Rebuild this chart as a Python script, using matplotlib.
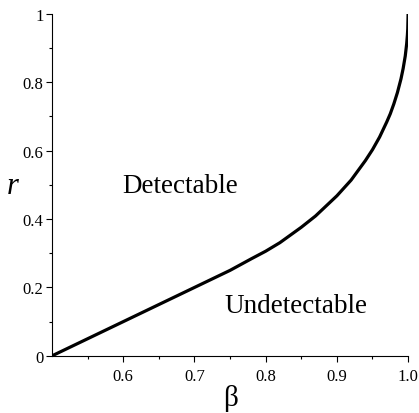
import matplotlib
matplotlib.use("Agg")
import matplotlib.pyplot as plt

beta = [0.5, 0.55, 0.6, 0.65, 0.7, 0.75, 0.78, 0.8, 0.82, 0.85, 0.87, 0.9, 0.92, 0.94, 0.95,
        0.96, 0.97, 0.975, 0.98, 0.985, 0.99, 0.993, 0.996, 0.998, 0.999, 0.9995, 1.0]
r = [0.0, 0.05, 0.1, 0.15, 0.2, 0.25, 0.284, 0.306, 0.331, 0.376, 0.409, 0.468, 0.514, 0.571, 0.603,
     0.64, 0.684, 0.708, 0.737, 0.770, 0.81, 0.840, 0.877, 0.913, 0.938, 0.956, 1.0]
xticks = [0.6, 0.7, 0.8, 0.9, 1.0]
xticklabels = ["0.6", "0.7", "0.8", "0.9", "1.0"]
yticks = [0, 0.2, 0.4, 0.6, 0.8, 1]
yticklabels = ["0", "0.2", "0.4", "0.6", "0.8", "1"]

plt.rcParams['font.family'] = ['Liberation Serif', 'DejaVu Serif']

fig = plt.figure(figsize=(4.19, 4.14), dpi=100)
ax = fig.add_axes([0.124, 0.138, 0.850, 0.826])
ax.plot(beta, r, color='black', lw=2.3, solid_capstyle='butt')
ax.set_xlim(0.5, 1.0)
ax.set_ylim(0, 1)
ax.spines['top'].set_visible(False)
ax.spines['right'].set_visible(False)
ax.set_xticks(xticks)
ax.set_xticklabels(xticklabels, fontsize=12)
ax.set_yticks(yticks)
ax.set_yticklabels(yticklabels, fontsize=12)
ax.set_xticks([0.55, 0.65, 0.75, 0.85, 0.95], minor=True)
ax.set_yticks([0.1, 0.3, 0.5, 0.7, 0.9], minor=True)
ax.tick_params(which='major', length=4, width=0.8, pad=2)
ax.tick_params(which='minor', length=2, width=0.8)
ax.tick_params(axis='x', pad=5)

ax.text(0.68, 0.497, "Detectable", fontsize=19.5, ha='center', va='center')
ax.text(0.842, 0.146, "Undetectable", fontsize=19.5, ha='center', va='center')
fig.text(231/419, 1-399/414, "β", fontsize=21, ha='center', va='center')
fig.text(13/419, 1-187/414, "r", fontsize=22, style='italic', ha='center', va='center')

fig.savefig("out.png", dpi=100)
